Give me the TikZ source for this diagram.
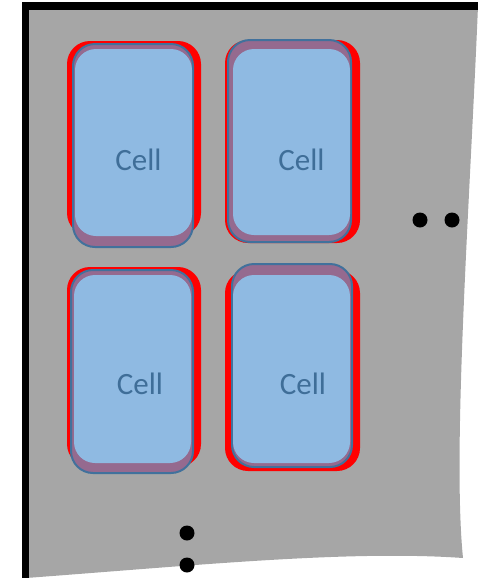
\documentclass[tikz,border=0pt]{standalone}
\usepackage{fontspec}
\setmainfont{Carlito}
\definecolor{bggray}{HTML}{A6A6A6}
\definecolor{cellblue}{HTML}{8FBAE2}
\definecolor{cellpurple}{HTML}{956A8F}
\definecolor{cellline}{HTML}{41719C}
\definecolor{celltext}{HTML}{3F6E98}
\tikzset{
  redshape/.style={fill=red, draw=none, rounded corners=23pt},
  ringshape/.style={fill=cellpurple, draw=cellline, line width=2pt, rounded corners=22pt},
  innershape/.style={fill=cellblue, draw=none, rounded corners=21pt},
  celllabel/.style={text=celltext, font=\fontsize{31}{37}\selectfont, anchor=base, inner sep=0pt},
  dotmark/.style={circle, fill=black, inner sep=0pt, minimum size=15pt}
}
\begin{document}
\begin{tikzpicture}[x=1pt,y=-1pt]
\useasboundingbox (0,0) rectangle (478,582);
% background sheet
\fill[bggray] (26,6) -- (478,6) .. controls (470,200) and (452,450) .. (463,558)
  .. controls (350,550) and (200,565) .. (26,578) -- cycle;
\draw[line width=7pt] (25.5,2.5) -- (25.5,578);
\draw[line width=7.5pt] (22,6) -- (478,6);
% top-left cell
\fill[redshape] (67,41) rectangle (201,236);
\filldraw[ringshape] (73,44) rectangle (193,247);
\fill[innershape] (75,49) rectangle (192,236);
\node[celllabel] (c1) at (138.5,170) {Cell};
% top-right cell
\fill[redshape] (225,40) rectangle (360,243);
\filldraw[ringshape] (228,40) rectangle (351,242);
\fill[innershape] (233,49) rectangle (350,235);
\node[celllabel] (c2) at (301.5,170) {Cell};
% bottom-left cell
\fill[redshape] (67,267) rectangle (201,467);
\filldraw[ringshape] (71,270) rectangle (193,473);
\fill[innershape] (74,275) rectangle (191,463);
\node[celllabel] (c3) at (140,394) {Cell};
% bottom-right cell
\fill[redshape] (225,270) rectangle (360,471);
\filldraw[ringshape] (232,264) rectangle (352,467);
\fill[innershape] (233,275) rectangle (350,463);
\node[celllabel] (c4) at (303,394) {Cell};
% dots
\node[dotmark] (d1) at (420,220) {};
\node[dotmark] (d2) at (452,220) {};
\node[dotmark] (d3) at (187,533) {};
\node[dotmark] (d4) at (187,565) {};
\end{tikzpicture}
\end{document}
